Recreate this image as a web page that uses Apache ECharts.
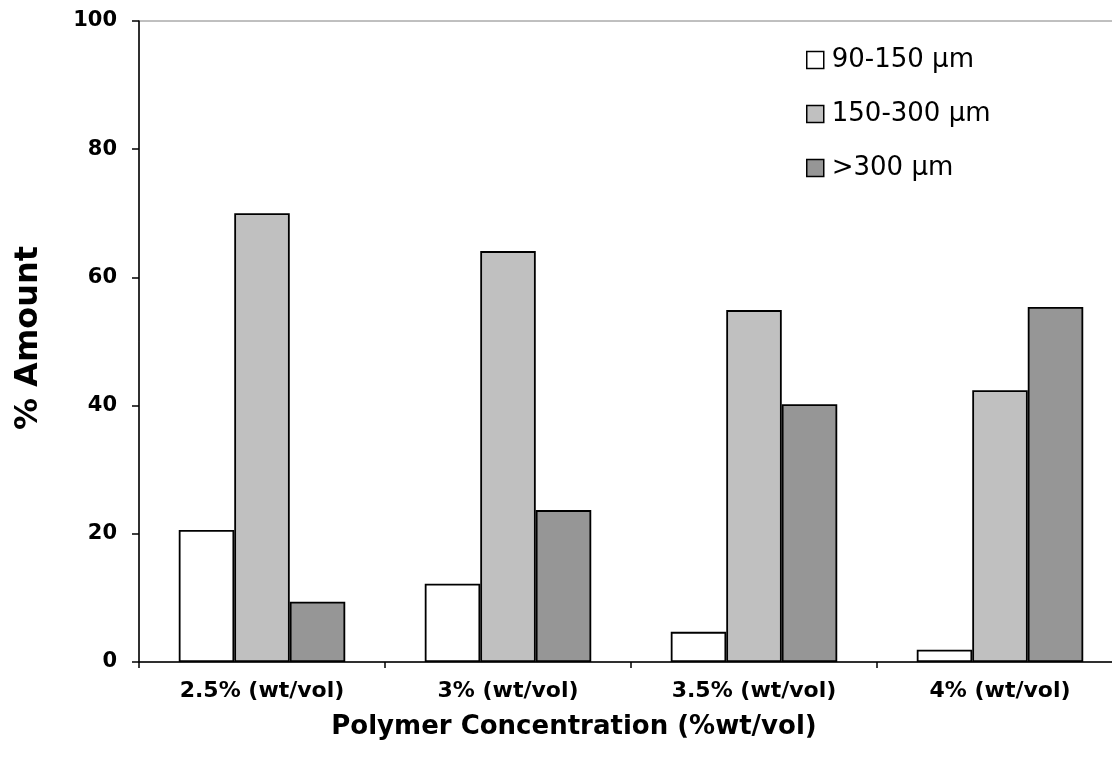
<!DOCTYPE html>
<html>
<head>
<meta charset="utf-8">
<script src="https://cdn.jsdelivr.net/npm/echarts@6/dist/echarts.min.js"></script>
<style>html,body{margin:0;padding:0;background:#fff;overflow:hidden}#c{width:1124px;height:774px}</style>
</head>
<body>
<div id="c"></div>
<script>
const categories = ['2.5% (wt/vol)', '3% (wt/vol)', '3.5% (wt/vol)', '4% (wt/vol)'];
const s90_150 = [20.6, 12.2, 4.7, 1.9];
const s150_300 = [70.0, 64.1, 54.9, 42.4];
const s300 = [9.4, 23.7, 40.2, 55.4];
const seriesNames = ['90-150 µm', '150-300 µm', '>300 µm'];
const yTicks = [0, 20, 40, 60, 80, 100];
const xTitle = 'Polymer Concentration (%wt/vol)';
const yTitle = '% Amount';

const chart = echarts.init(document.getElementById('c'), null, {renderer: 'canvas'});
const font = '"DejaVu Sans", Verdana, sans-serif';
const bar = (name, data, color) => ({
  name, type: 'bar', data, barWidth: 55.5, barGap: '0%',
  itemStyle: {color, borderColor: '#000', borderWidth: 1.8},
  emphasis: {disabled: true}
});
chart.setOption({
  animation: false,
  grid: {left: 139, top: 21, right: 1, bottom: 112, show: true, borderColor: '#808080', borderWidth: 1},
  legend: {
    orient: 'vertical', left: 801, top: 40, itemGap: 24, itemWidth: 17, itemHeight: 17,
    icon: 'rect',
    itemStyle: {borderColor: '#000', borderWidth: 1.5},
    textStyle: {fontFamily: font, fontSize: 26, color: '#000', lineHeight: 30, padding: [0, 0, 0, 3]},
    data: seriesNames
  },
  xAxis: {
    type: 'category', data: categories,
    axisLine: {lineStyle: {color: '#000', width: 1.5}},
    axisTick: {show: true, length: 6, lineStyle: {color: '#000', width: 1.5}},
    axisLabel: {fontFamily: font, fontWeight: 'bold', fontSize: 22, color: '#000', margin: 18}
  },
  yAxis: {
    type: 'value', min: yTicks[0], max: yTicks[yTicks.length - 1], interval: 20,
    axisLine: {show: true, lineStyle: {color: '#000', width: 1.5}},
    axisTick: {show: true, length: 7, lineStyle: {color: '#000', width: 1.5}},
    splitLine: {show: false},
    axisLabel: {fontFamily: font, fontWeight: 'bold', fontSize: 21, color: '#000', margin: 22}
  },
  graphic: [
    {type: 'text', x: 574, y: 727, style: {text: xTitle, fontFamily: font, fontWeight: 'bold', fontSize: 26, fill: '#000', textAlign: 'center', textVerticalAlign: 'middle'}},
    {type: 'text', x: 29, y: 338, rotation: Math.PI / 2, style: {text: yTitle, fontFamily: font, fontWeight: 'bold', fontSize: 32, fill: '#000', textAlign: 'center', textVerticalAlign: 'middle'}}
  ],
  series: [
    bar(seriesNames[0], s90_150, '#ffffff'),
    bar(seriesNames[1], s150_300, '#c0c0c0'),
    bar(seriesNames[2], s300, '#969696')
  ]
});
</script>
</body>
</html>
